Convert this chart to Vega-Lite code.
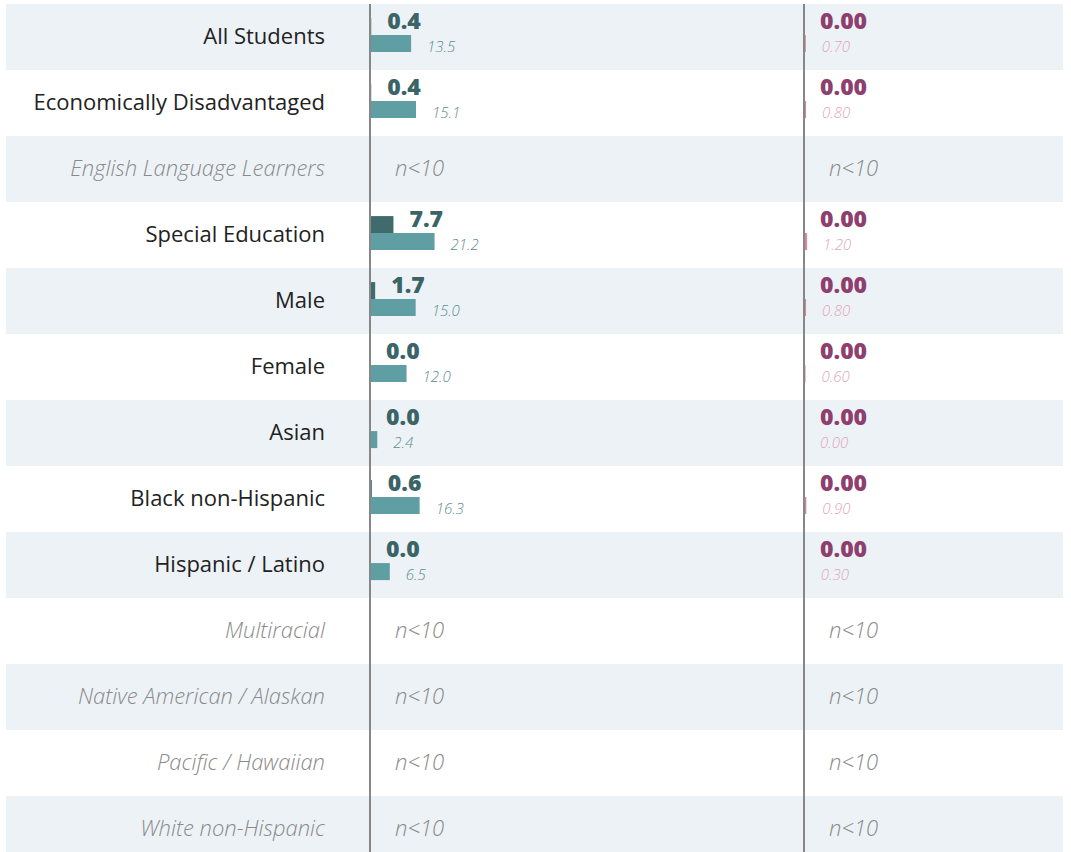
{
  "$schema": "https://vega.github.io/schema/vega-lite/v6.json",
  "padding": {"left": 6, "top": 3, "right": 8, "bottom": 0},
  "background": "white",
  "bounds": "flush",
  "config": {"view": {"stroke": null}, "concat": {"spacing": 0}},
  "spacing": 0,
  "resolve": {"scale": {"color": "independent", "yOffset": "independent", "x": "independent"}},
  "datasets": {
    "rows": [
      {"group": "All Students", "suppressed": false, "school": 0.4, "state": 13.5, "school2": 0.0, "state2": 0.7},
      {"group": "Economically Disadvantaged", "suppressed": false, "school": 0.4, "state": 15.1, "school2": 0.0, "state2": 0.8},
      {"group": "English Language Learners", "suppressed": true},
      {"group": "Special Education", "suppressed": false, "school": 7.7, "state": 21.2, "school2": 0.0, "state2": 1.2},
      {"group": "Male", "suppressed": false, "school": 1.7, "state": 15.0, "school2": 0.0, "state2": 0.8},
      {"group": "Female", "suppressed": false, "school": 0.0, "state": 12.0, "school2": 0.0, "state2": 0.6},
      {"group": "Asian", "suppressed": false, "school": 0.0, "state": 2.4, "school2": 0.0, "state2": 0.0},
      {"group": "Black non-Hispanic", "suppressed": false, "school": 0.6, "state": 16.3, "school2": 0.0, "state2": 0.9},
      {"group": "Hispanic / Latino", "suppressed": false, "school": 0.0, "state": 6.5, "school2": 0.0, "state2": 0.3},
      {"group": "Multiracial", "suppressed": true},
      {"group": "Native American / Alaskan", "suppressed": true},
      {"group": "Pacific / Hawaiian", "suppressed": true},
      {"group": "White non-Hispanic", "suppressed": true}
    ]
  },
  "data": {"name": "rows"},
  "hconcat": [
    {
      "width": 364,
      "height": 858,
      "layer": [
        {
          "transform": [{"filter": "indexof(['Economically Disadvantaged','Special Education','Female','Black non-Hispanic','Multiracial','Pacific / Hawaiian'], datum.group) < 0"}],
          "mark": {"type": "rect", "fill": "#edf2f6"},
          "encoding": {
            "y": {"field": "group", "type": "nominal", "axis": null,
                  "scale": {"paddingInner": 0, "paddingOuter": 0,
                            "domain": ["All Students", "Economically Disadvantaged", "English Language Learners", "Special Education", "Male", "Female", "Asian", "Black non-Hispanic", "Hispanic / Latino", "Multiracial", "Native American / Alaskan", "Pacific / Hawaiian", "White non-Hispanic"]}}
          }
        },
        {
          "transform": [{"filter": "!datum.suppressed"}],
          "mark": {"type": "text", "align": "right", "baseline": "middle", "dx": -45, "dy": 0,
                   "font": "Open Sans", "fontSize": 22, "fontWeight": 400, "color": "#222222"},
          "encoding": {
            "y": {"field": "group", "type": "nominal", "axis": null},
            "x": {"datum": 1, "type": "quantitative", "scale": {"domain": [0, 1]}, "axis": null},
            "text": {"field": "group"}
          }
        },
        {
          "transform": [{"filter": "datum.suppressed"}],
          "mark": {"type": "text", "align": "right", "baseline": "middle", "dx": -45, "dy": 0,
                   "font": "Open Sans", "fontSize": 22, "fontWeight": 300, "fontStyle": "italic", "color": "#8a8a8a"},
          "encoding": {
            "y": {"field": "group", "type": "nominal", "axis": null},
            "x": {"datum": 1, "type": "quantitative", "scale": {"domain": [0, 1]}, "axis": null},
            "text": {"field": "group"}
          }
        }
      ]
    },
    {
      "width": 434,
      "height": 858,
      "layer": [
        {
          "transform": [{"filter": "indexof(['Economically Disadvantaged','Special Education','Female','Black non-Hispanic','Multiracial','Pacific / Hawaiian'], datum.group) < 0"}],
          "mark": {"type": "rect", "fill": "#edf2f6"},
          "encoding": {
            "y": {"field": "group", "type": "nominal", "axis": null,
                  "scale": {"paddingInner": 0, "paddingOuter": 0,
                            "domain": ["All Students", "Economically Disadvantaged", "English Language Learners", "Special Education", "Male", "Female", "Asian", "Black non-Hispanic", "Hispanic / Latino", "Multiracial", "Native American / Alaskan", "Pacific / Hawaiian", "White non-Hispanic"]}}
          }
        },
        {
          "transform": [{"filter": "!datum.suppressed"}, {"fold": ["school", "state"], "as": ["key", "value"]}],
          "mark": {"type": "bar"},
          "encoding": {
            "y": {"field": "group", "type": "nominal", "axis": null},
            "yOffset": {"field": "key", "type": "nominal", "scale": {"domain": ["school", "state"], "paddingInner": 0, "paddingOuter": 0.94, "align": 0.44}},
            "x": {"field": "value", "type": "quantitative", "scale": {"domain": [0, 142.5], "nice": false}, "axis": null},
            "color": {"field": "key", "type": "nominal", "legend": null,
                      "scale": {"domain": ["school", "state"], "range": ["#3f6b6c", "#5f9fa4"]}}
          }
        },
        {
          "mark": {"type": "rule", "color": "#878787", "strokeWidth": 2},
          "encoding": {"x": {"datum": 0, "type": "quantitative"}}
        },
        {
          "transform": [{"filter": "!datum.suppressed"}],
          "mark": {"type": "text", "align": "left", "baseline": "middle", "dx": 16,
                   "font": "Open Sans", "fontSize": 23, "fontWeight": 800, "color": "#3a6466"},
          "encoding": {
            "y": {"field": "group", "type": "nominal", "axis": null, "bandPosition": 0.275},
            "x": {"field": "school", "type": "quantitative"},
            "text": {"field": "school", "format": ".1f"}
          }
        },
        {
          "transform": [{"filter": "!datum.suppressed"}],
          "mark": {"type": "text", "align": "left", "baseline": "middle", "dx": 16,
                   "font": "Open Sans", "fontSize": 15, "fontWeight": 300, "fontStyle": "italic", "color": "#5e8e90"},
          "encoding": {
            "y": {"field": "group", "type": "nominal", "axis": null, "bandPosition": 0.645},
            "x": {"field": "state", "type": "quantitative"},
            "text": {"field": "state", "format": ".1f"}
          }
        },
        {
          "transform": [{"filter": "datum.suppressed"}],
          "mark": {"type": "text", "align": "left", "baseline": "middle", "dx": 25, "dy": 0,
                   "font": "Open Sans", "fontSize": 22, "fontWeight": 300, "fontStyle": "italic", "color": "#8a8a8a"},
          "encoding": {
            "y": {"field": "group", "type": "nominal", "axis": null},
            "x": {"datum": 0, "type": "quantitative"},
            "text": {"value": "n<10"}
          }
        }
      ]
    },
    {
      "width": 259,
      "height": 858,
      "layer": [
        {
          "transform": [{"filter": "indexof(['Economically Disadvantaged','Special Education','Female','Black non-Hispanic','Multiracial','Pacific / Hawaiian'], datum.group) < 0"}],
          "mark": {"type": "rect", "fill": "#edf2f6"},
          "encoding": {
            "y": {"field": "group", "type": "nominal", "axis": null,
                  "scale": {"paddingInner": 0, "paddingOuter": 0,
                            "domain": ["All Students", "Economically Disadvantaged", "English Language Learners", "Special Education", "Male", "Female", "Asian", "Black non-Hispanic", "Hispanic / Latino", "Multiracial", "Native American / Alaskan", "Pacific / Hawaiian", "White non-Hispanic"]}}
          }
        },
        {
          "transform": [{"filter": "!datum.suppressed"}, {"fold": ["school2", "state2"], "as": ["key", "value"]}],
          "mark": {"type": "bar"},
          "encoding": {
            "y": {"field": "group", "type": "nominal", "axis": null},
            "yOffset": {"field": "key", "type": "nominal", "scale": {"domain": ["school2", "state2"], "paddingInner": 0, "paddingOuter": 0.94, "align": 0.44}},
            "x": {"field": "value", "type": "quantitative", "scale": {"domain": [0, 100], "nice": false}, "axis": null},
            "color": {"field": "key", "type": "nominal", "legend": null,
                      "scale": {"domain": ["school2", "state2"], "range": ["#8e3f6e", "#d4879f"]}}
          }
        },
        {
          "mark": {"type": "rule", "color": "#878787", "strokeWidth": 2},
          "encoding": {"x": {"datum": 0, "type": "quantitative"}}
        },
        {
          "transform": [{"filter": "!datum.suppressed"}],
          "mark": {"type": "text", "align": "left", "baseline": "middle", "dx": 16,
                   "font": "Open Sans", "fontSize": 23, "fontWeight": 800, "color": "#8e3f6e"},
          "encoding": {
            "y": {"field": "group", "type": "nominal", "axis": null, "bandPosition": 0.275},
            "x": {"field": "school2", "type": "quantitative"},
            "text": {"field": "school2", "format": ".2f"}
          }
        },
        {
          "transform": [{"filter": "!datum.suppressed"}],
          "mark": {"type": "text", "align": "left", "baseline": "middle", "dx": 16,
                   "font": "Open Sans", "fontSize": 15, "fontWeight": 300, "fontStyle": "italic", "color": "#e0a6bb"},
          "encoding": {
            "y": {"field": "group", "type": "nominal", "axis": null, "bandPosition": 0.645},
            "x": {"field": "state2", "type": "quantitative"},
            "text": {"field": "state2", "format": ".2f"}
          }
        },
        {
          "transform": [{"filter": "datum.suppressed"}],
          "mark": {"type": "text", "align": "left", "baseline": "middle", "dx": 25, "dy": 0,
                   "font": "Open Sans", "fontSize": 22, "fontWeight": 300, "fontStyle": "italic", "color": "#8a8a8a"},
          "encoding": {
            "y": {"field": "group", "type": "nominal", "axis": null},
            "x": {"datum": 0, "type": "quantitative"},
            "text": {"value": "n<10"}
          }
        }
      ]
    }
  ]
}
